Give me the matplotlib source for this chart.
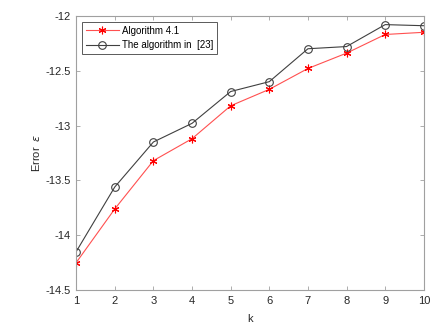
import matplotlib.pyplot as plt

plt.rcParams['font.family'] = ['Liberation Sans', 'DejaVu Sans']

k = [1, 2, 3, 4, 5, 6, 7, 8, 9, 10]
err_alg41 = [-14.25, -13.76, -13.32, -13.12, -12.82, -12.67, -12.48, -12.34, -12.17, -12.15]
err_ref23 = [-14.15, -13.56, -13.15, -12.98, -12.69, -12.60, -12.30, -12.28, -12.08, -12.09]

fig = plt.figure(figsize=(4.48, 3.3), dpi=100)
ax = fig.add_axes([0.170, 0.121, 0.776, 0.831])

ax.plot(k, err_alg41, color='#ff5050', lw=0.8, marker=(6, 2, 0), ms=5.5, mew=0.8,
        mec='#ff0000', mfc='#ff0000', label='Algorithm 4.1')
ax.plot(k, err_ref23, color='#404040', lw=0.8, marker='o', ms=5.5, mew=0.8,
        mfc='none', mec='#404040', label='The algorithm in  [23]')

ax.set_xlim(1, 10)
ax.set_ylim(-14.5, -12)
ax.set_xticks(k)
ax.set_yticks([-14.5, -14, -13.5, -13, -12.5, -12])
ax.set_yticklabels(['-14.5', '-14', '-13.5', '-13', '-12.5', '-12'])

for s in ax.spines.values():
    s.set_color('#a0a0a0')
    s.set_linewidth(0.8)
ax.tick_params(direction='in', length=3, width=0.6, colors='#a0a0a0',
               labelcolor='#262626', labelsize=8, top=True, right=True, pad=4)

ax.set_xlabel('k', fontsize=8, color='#262626', labelpad=6)
ax.set_ylabel(r'Error  $\epsilon$', fontsize=8, color='#262626', labelpad=2)

leg = ax.legend(loc='upper left', fontsize=7, frameon=True, fancybox=False,
                edgecolor='#303030', borderpad=0.4, handlelength=3.4,
                handletextpad=0.3, labelspacing=0.45, borderaxespad=0.6)
leg.get_frame().set_linewidth(0.7)

fig.savefig('out.png', dpi=100)
